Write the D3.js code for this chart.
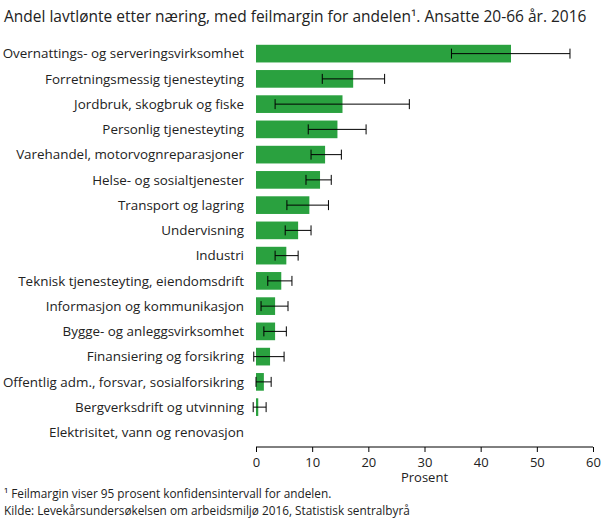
<!DOCTYPE html>
<html><head><meta charset="utf-8">
<script src="https://cdn.jsdelivr.net/npm/d3@7"></script>
<style>body{margin:0;background:#fff;font-family:"Open Sans",sans-serif}</style>
</head><body><svg id="c" width="609" height="522"></svg>
<script>
const categories = ["Overnattings- og serveringsvirksomhet","Forretningsmessig tjenesteyting","Jordbruk, skogbruk og fiske","Personlig tjenesteyting","Varehandel, motorvognreparasjoner","Helse- og sosialtjenester","Transport og lagring","Undervisning","Industri","Teknisk tjenesteyting, eiendomsdrift","Informasjon og kommunikasjon","Bygge- og anleggsvirksomhet","Finansiering og forsikring","Offentlig adm., forsvar, sosialforsikring","Bergverksdrift og utvinning","Elektrisitet, vann og renovasjon"];
const values = [45.4,17.3,15.4,14.5,12.3,11.4,9.5,7.5,5.4,4.5,3.4,3.4,2.5,1.4,0.4,0];
const lower = [34.8,11.8,3.4,9.3,9.8,8.9,5.5,5.2,3.4,2.1,0.9,1.4,-0.4,0,-0.5,null];
const upper = [55.9,22.9,27.3,19.6,15.2,13.4,12.9,9.8,7.5,6.4,5.7,5.4,5.0,2.7,1.8,null];
const xTicks = [0,10,20,30,40,50,60];

const svg = d3.select("#c");
const x = d3.scaleLinear().domain([0,60]).range([256,593]);
const y = d3.scaleBand().domain(categories).range([41,445]).paddingInner(0.3).paddingOuter(0.15);

svg.append("text").attr("x",4).attr("y",22).attr("font-size",15.5).attr("fill","#222")
  .text("Andel lavtlønte etter næring, med feilmargin for andelen¹. Ansatte 20-66 år. 2016");

svg.selectAll(".bar").data(categories).join("rect")
  .attr("x",x(0)).attr("y",d=>y(d)).attr("height",y.bandwidth())
  .attr("width",(d,i)=>x(values[i])-x(0)).attr("fill","#2aa13f");

const eb = svg.append("g").attr("stroke","#000").attr("stroke-width",1);
categories.forEach((c,i)=>{
  if(lower[i]==null) return;
  const cy = y(c)+y.bandwidth()/2;
  eb.append("line").attr("x1",x(lower[i])).attr("x2",x(upper[i])).attr("y1",cy).attr("y2",cy);
  [lower[i],upper[i]].forEach(v=>eb.append("line").attr("x1",x(v)).attr("x2",x(v)).attr("y1",cy-5).attr("y2",cy+5));
});

svg.selectAll(".lab").data(categories).join("text")
  .attr("x",244).attr("y",d=>y(d)+y.bandwidth()/2).attr("dy","0.35em")
  .attr("text-anchor","end").attr("font-size",13.4).attr("fill","#222").text(d=>d);

const ax = svg.append("g").attr("transform","translate(0,447)")
  .call(d3.axisBottom(x).tickValues(xTicks).tickSize(5).tickPadding(6));
ax.select(".domain").remove();
ax.append("line").attr("x1",x(0)).attr("x2",x(60)).attr("stroke","#000");
ax.selectAll("text").attr("font-size",13).attr("fill","#222").attr("font-family","Open Sans");

svg.append("text").attr("x",x(30)).attr("y",482).attr("text-anchor","middle").attr("font-size",13).attr("fill","#222").text("Prosent");
svg.append("text").attr("x",4).attr("y",498).attr("font-size",11.8).attr("fill","#222").text("¹ Feilmargin viser 95 prosent konfidensintervall for andelen.");
svg.append("text").attr("x",4).attr("y",515).attr("font-size",11.8).attr("fill","#222").text("Kilde: Levekårsundersøkelsen om arbeidsmiljø 2016, Statistisk sentralbyrå");
</script></body></html>
